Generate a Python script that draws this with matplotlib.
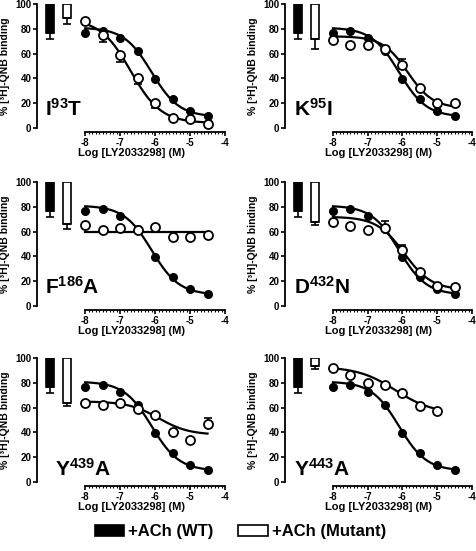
#!/usr/bin/env python3
"""Competition binding curves: WT vs mutant receptors, +ACh."""

import matplotlib
matplotlib.use("Agg")
import matplotlib.pyplot as plt
import numpy as np
from matplotlib.patches import Patch
from matplotlib.ticker import FixedLocator

plt.rcParams["font.family"] = ["Liberation Sans", "DejaVu Sans"]
plt.rcParams["font.weight"] = "bold"
plt.rcParams["axes.unicode_minus"] = False
plt.rcParams["mathtext.fontset"] = "custom"
plt.rcParams["mathtext.bf"] = "Liberation Sans:bold"
plt.rcParams["mathtext.rm"] = "Liberation Sans:bold"

# log concentrations of LY2033298
log_conc = [-8, -7.5, -7, -6.5, -6, -5.5, -5, -4.5]

# WT (+ACh) control, same in every panel
wt_binding = [77, 78, 72.5, 62, 39.5, 23, 14, 10]
wt_fit = (81, 9, -6.1, 1.1)  # top, bottom, logIC50, hill
wt_bar = 77
wt_bar_err = 5

mutants = ["I93T", "K95I", "F186A", "D432N", "Y439A", "Y443A"]
mutant_labels = [r"$\mathbf{I^{93}T}$", r"$\mathbf{K^{95}I}$", r"$\mathbf{F^{186}A}$",
                 r"$\mathbf{D^{432}N}$", r"$\mathbf{Y^{439}A}$", r"$\mathbf{Y^{443}A}$"]

# mutant (+ACh) binding, % of [3H]-QNB
i93t = [86.5, 75, 59, 40, 20, 8, 7, 3]
k95i = [71, 67, 67, 64, 51, 32, 20.5, 20]
f186a = [65, 61, 63, 61.5, 64, 56, 56, 57.5]
d432n = [68, 64.5, 61, 62.5, 45, 27.5, 16.5, 15]
y439a = [63.5, 62.5, 63.5, 59, 54, 40.5, 33.5, 47]
y443a = [92, 86, 80, 78, 72, 61.5, 57.5]
mutant_binding = [i93t, k95i, f186a, d432n, y439a, y443a]

# one-sided error bars (lower, upper) for mutant points
i93t_err = ([0, 6, 6, 4.5, 4, 0, 0, 0], [0] * 8)
k95i_err = ([0] * 8, [0, 0, 0, 2, 5, 0, 0, 0])
f186a_err = ([0] * 8, [0] * 8)
d432n_err = ([0] * 8, [0, 0, 0, 6, 4.5, 0, 0, 0])
y439a_err = ([0] * 8, [0, 0, 0, 0, 0, 0, 0, 4.8])
y443a_err = ([0] * 7, [0] * 7)
mutant_err = [i93t_err, k95i_err, f186a_err, d432n_err, y439a_err, y443a_err]

# fitted curves: top, bottom, logIC50, hill
mutant_fit = [(88, 4, -6.7, 1.0), (74, 16, -5.85, 1.2), (60, 60, -6.0, 1.0),
              (72, 13, -5.95, 1.1), (65, 38, -5.9, 1.0), (93, 55, -6.2, 0.8)]

# ACh-alone bars (hanging from 100)
mutant_bar = [88.5, 71.5, 66, 67.5, 64, 93.5]
mutant_bar_err = [4.5, 7.5, 4, 2.5, 3, 2.5]

BAR_X = (-9.0, -8.53)


def curve(x, top, bottom, logic50, hill):
    return bottom + (top - bottom) / (1 + 10 ** ((x - logic50) * hill))


def main() -> None:
    W, H = 477, 551
    fig = plt.figure(figsize=(W / 100, H / 100), dpi=100)

    col_left = [37, 285]
    col_width = [188, 187]
    row_zero = [128, 306, 482]  # pixel row of y = 0
    row_height = 124

    for i, name in enumerate(mutants):
        r, c = divmod(i, 2)
        ax = fig.add_axes([col_left[c] / W, (H - row_zero[r]) / H,
                           col_width[c] / W, row_height / H])
        ax.set_xlim(-9.38, -4)
        ax.set_ylim(0, 100)

        # bars
        ax.bar(BAR_X[0], 100 - wt_bar, bottom=wt_bar, width=0.23,
               color="black", edgecolor="black", linewidth=1.2)
        ax.errorbar(BAR_X[0], wt_bar, yerr=[[wt_bar_err], [0]], fmt="none",
                    ecolor="black", elinewidth=1.2, capsize=3, capthick=1.2)
        ax.bar(BAR_X[1], 100 - mutant_bar[i], bottom=mutant_bar[i], width=0.23,
               color="white", edgecolor="black", linewidth=1.2)
        ax.errorbar(BAR_X[1], mutant_bar[i], yerr=[[mutant_bar_err[i]], [0]],
                    fmt="none", ecolor="black", elinewidth=1.2, capsize=3,
                    capthick=1.2)

        # WT curve + points
        xs = np.linspace(-8, -4.5, 200)
        ax.plot(xs, curve(xs, *wt_fit), color="black", lw=1.6, zorder=2)
        ax.plot(log_conc, wt_binding, "o", color="black", ms=5.5, zorder=4,
                clip_on=False)

        # mutant curve + points
        y = mutant_binding[i]
        x = log_conc[:len(y)]
        xm = np.linspace(-8, x[-1], 200)
        ax.plot(xm, curve(xm, *mutant_fit[i]), color="black", lw=1.6, zorder=2)
        lo, hi = mutant_err[i]
        ax.errorbar(x, y, yerr=[lo, hi], fmt="none", ecolor="black",
                    elinewidth=1.2, capsize=3, capthick=1.2, zorder=3)
        ax.plot(x, y, "o", mfc="white", mec="black", mew=1.3, ms=6.5,
                zorder=5, clip_on=False)

        # label
        ly = 0.1 if r < 2 else 0.05
        lx = 0.045 if c == 0 else 0.05
        if i == 4:
            lx = 0.095
        ax.text(lx, ly, mutant_labels[i], transform=ax.transAxes,
                fontsize=15, ha="left", va="baseline")

        # axes styling
        for s in ("top", "right"):
            ax.spines[s].set_visible(False)
        ax.spines["left"].set_bounds(0, 100)
        ax.spines["bottom"].set_bounds(-8, -4)
        ax.spines["bottom"].set_position(("outward", 3))
        for s in ("left", "bottom"):
            ax.spines[s].set_linewidth(1.3)
        ax.set_xticks([-8, -7, -6, -5, -4])
        ax.xaxis.set_minor_locator(FixedLocator(np.arange(-8, -4, 0.1)))
        ax.set_yticks([0, 20, 40, 60, 80, 100])
        ax.tick_params(axis="both", which="major", length=3, width=1.2,
                       labelsize=7, pad=1)
        ax.tick_params(axis="x", which="minor", length=1.6, width=0.8)
        for lab in ax.get_xticklabels() + ax.get_yticklabels():
            lab.set_fontweight("bold")
        ax.set_xlabel("Log [LY2033298] (M)", fontsize=8, fontweight="bold",
                      labelpad=0)
        ax.set_ylabel("% [\u00b3H]-QNB binding", fontsize=7.5, fontweight="bold",
                      labelpad=3.5)

    handles = [Patch(facecolor="black", edgecolor="black", lw=1.2),
               Patch(facecolor="white", edgecolor="black", lw=1.2)]
    fig.legend(handles, ["+ACh (WT)", "+ACh (Mutant)"], loc="center",
               bbox_to_anchor=(0.504, 0.035), ncol=2, frameon=False,
               prop={"size": 12, "weight": "bold"}, handlelength=1.75,
               handleheight=0.7, handletextpad=0.25, columnspacing=1.5)

    fig.savefig("out.png", dpi=100)
    plt.close(fig)


if __name__ == "__main__":
    main()
